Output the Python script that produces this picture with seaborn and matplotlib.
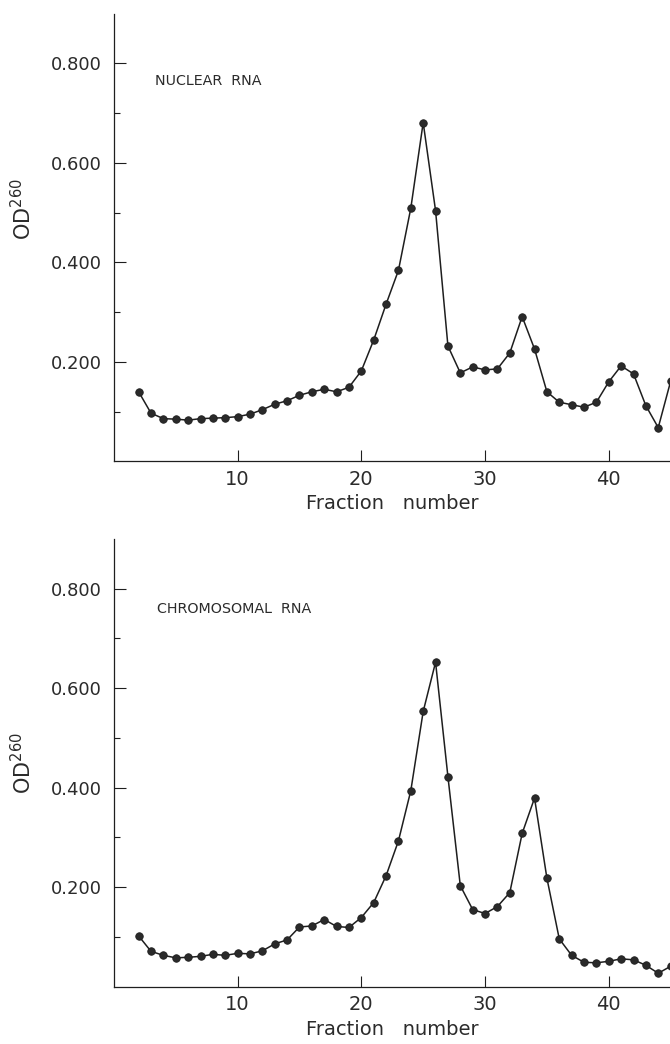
import matplotlib
matplotlib.use("Agg")
import matplotlib.pyplot as plt
from matplotlib.ticker import FixedLocator
import seaborn as sns

# Fraction numbers collected from the gradient
fractions = list(range(2, 46))

# OD260 readings, nuclear RNA
nuclear_od = [0.140, 0.097, 0.086, 0.085, 0.083, 0.086, 0.087, 0.088, 0.090, 0.095,
              0.104, 0.115, 0.122, 0.133, 0.140, 0.145, 0.140, 0.149, 0.182, 0.244,
              0.316, 0.384, 0.509, 0.681, 0.504, 0.232, 0.178, 0.190, 0.184, 0.186,
              0.218, 0.291, 0.226, 0.140, 0.119, 0.114, 0.109, 0.119, 0.160, 0.192,
              0.176, 0.112, 0.068, 0.161]

# OD260 readings, chromosomal RNA
chromosomal_od = [0.102, 0.071, 0.063, 0.058, 0.059, 0.061, 0.065, 0.063, 0.067, 0.066,
                  0.072, 0.086, 0.094, 0.120, 0.122, 0.135, 0.121, 0.119, 0.139, 0.169,
                  0.223, 0.293, 0.394, 0.553, 0.652, 0.422, 0.203, 0.155, 0.147, 0.161,
                  0.189, 0.308, 0.379, 0.218, 0.096, 0.063, 0.049, 0.048, 0.051, 0.056,
                  0.054, 0.043, 0.027, 0.041]

panel_titles = ["NUCLEAR  RNA", "CHROMOSOMAL  RNA"]
y_major = [0.2, 0.4, 0.6, 0.8]
y_major_labels = ["0.200", "0.400", "0.600", "0.800"]
y_minor = [0.1, 0.3, 0.5, 0.7]
x_major = [10, 20, 30, 40]
x_major_labels = ["10", "20", "30", "40"]

sns.set_style("ticks")
plt.rcParams["font.family"] = ["DejaVu Sans"]
plt.rcParams["mathtext.default"] = "regular"

ink = "#1e1e1e"
label_ink = "#2b2b2b"

fig = plt.figure(figsize=(6.70, 10.44), dpi=100)
ax_top = fig.add_axes([0.170, 0.558, 0.830, 0.429])
ax_bot = fig.add_axes([0.170, 0.0549, 0.830, 0.429])

panels = [
    (ax_top, nuclear_od, panel_titles[0], (3.3, 0.764), 0.564),
    (ax_bot, chromosomal_od, panel_titles[1], (3.5, 0.758), 0.500),
]

for ax, values, title, title_pos, ylabel_y in panels:
    sns.lineplot(x=fractions, y=values, ax=ax, color=ink, linewidth=1.1,
                 marker="o", markersize=5.4, markeredgecolor=ink,
                 markerfacecolor="#2a2a2a", markeredgewidth=0.6)
    ax.set_xlim(0, 44.95)
    ax.set_ylim(0, 0.9)

    for side in ("top", "right"):
        ax.spines[side].set_visible(False)
    for side in ("left", "bottom"):
        ax.spines[side].set_color(ink)
        ax.spines[side].set_linewidth(0.9)

    ax.yaxis.set_major_locator(FixedLocator(y_major))
    ax.set_yticklabels(y_major_labels)
    ax.yaxis.set_minor_locator(FixedLocator(y_minor))
    ax.xaxis.set_major_locator(FixedLocator(x_major))
    ax.set_xticklabels(x_major_labels)

    ax.tick_params(axis="y", which="both", left=True, right=False)
    ax.tick_params(axis="x", which="both", bottom=True, top=False)
    ax.tick_params(axis="y", which="major", direction="in", length=8.5, width=0.8,
                   color=ink, labelsize=13, pad=9, labelcolor=label_ink)
    ax.tick_params(axis="y", which="minor", direction="in", length=4.3, width=0.8,
                   color=ink)
    ax.tick_params(axis="x", which="major", direction="in", length=8, width=0.8,
                   color=ink, labelsize=14, pad=6, labelcolor=label_ink)
    ax.tick_params(axis="x", which="minor", bottom=False)

    ax.set_xlabel("Fraction   number", fontsize=14, color=label_ink, labelpad=4)
    ax.set_ylabel(r"OD$^{260}$", fontsize=15, color=label_ink)
    ax.yaxis.set_label_coords(-0.142, ylabel_y)

    ax.text(title_pos[0], title_pos[1], title, fontsize=10.3, color=label_ink,
            va="center", ha="left")

fig.savefig("out.png", dpi=100, facecolor="white")
